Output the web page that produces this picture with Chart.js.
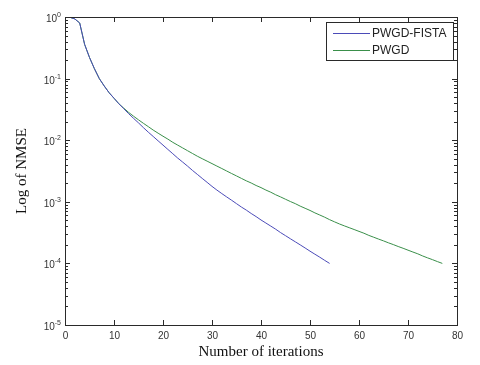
<!DOCTYPE html>
<html>
<head>
<meta charset="utf-8">
<script src="https://cdn.jsdelivr.net/npm/chart.js@4/dist/chart.umd.min.js"></script>
<style>
  html, body { margin: 0; padding: 0; background: #ffffff; }
  #wrap { width: 480px; height: 365px; position: relative; }
</style>
</head>
<body>
<div id="wrap"><canvas id="c" width="480" height="365"></canvas></div>
<script>
// ---- data ----
const seriesNames = ["PWGD-FISTA", "PWGD"];
const xTickValues = [0, 10, 20, 30, 40, 50, 60, 70, 80];
const yDecadeExponents = [0, -1, -2, -3, -4, -5];
const xTitle = "Number of iterations";
const yTitle = "Log of NMSE";

const itersFista = [1,2,3,4,5,6,7,8,9,10,11,12,13,14,15,16,17,18,19,20,21,22,23,24,25,26,27,28,29,30,
  31,32,33,34,35,36,37,38,39,40,41,42,43,44,45,46,47,48,49,50,51,52,53,54];
const nmseFista = [0.99,0.93,0.80,0.36,0.22,0.145,0.10,0.076,0.059,0.048,0.039,
  0.0324,0.0269,0.0226,0.0191,0.0160,0.0135,0.0115,0.00977,0.00832,0.00708,0.00603,0.00513,0.00442,
  0.00380,0.00324,0.00279,0.00240,0.00207,0.00178,0.00155,0.00136,0.00120,0.00106,0.000933,0.000822,
  0.000733,0.000646,0.000575,0.000507,0.000452,0.000403,0.000359,0.000316,0.000282,0.000251,0.000224,
  0.000200,0.000178,0.000158,0.000141,0.000126,0.000112,0.000100];

const itersPwgd = [1,2,3,4,5,6,7,8,9,10,11,12,13,14,15,16,17,18,19,20,21,22,23,24,25,26,27,28,29,30,
  31,32,33,34,35,36,37,38,39,40,41,42,43,44,45,46,47,48,49,50,51,52,53,54,55,56,57,58,59,60,
  61,62,63,64,65,66,67,68,69,70,71,72,73,74,75,76,77];
const nmsePwgd = [0.99,0.93,0.80,0.36,0.22,0.145,0.10,0.076,0.059,0.048,0.039,
  0.0331,0.0282,0.0245,0.0214,0.0188,0.0166,0.0146,0.0130,0.0116,0.0104,0.00923,0.00832,0.00750,
  0.00676,0.00610,0.00550,0.00501,0.00457,0.00417,0.00380,0.00347,0.00316,0.00288,0.00263,0.00240,
  0.00219,0.00202,0.00184,0.00170,0.00155,0.00143,0.00130,0.00120,0.00110,0.00101,0.000933,0.000851,
  0.000785,0.000724,0.000661,0.000610,0.000562,0.000513,0.000473,0.000437,0.000407,0.000380,0.000355,
  0.000331,0.000309,0.000285,0.000266,0.000248,0.000232,0.000216,0.000202,0.000188,0.000176,0.000164,
  0.000153,0.000143,0.000132,0.000123,0.000115,0.000107,0.000100];

// ---- styling ----
const colFista = "#4b4bb8";
const colPwgd = "#3a8f4a";
const axisCol = "#2a2a2a";
const tickFont = "10px 'Liberation Sans', Arial, sans-serif";
const supFont = "7px 'Liberation Sans', Arial, sans-serif";
const titleFont = "15px 'Liberation Serif', 'Times New Roman', serif";
const legendFont = "12px 'Liberation Sans', Arial, sans-serif";

function pts(xs, ys) { return xs.map((x, i) => ({ x: x, y: ys[i] })); }

const matlabAxes = {
  id: "matlabAxes",
  afterDraw(chart) {
    const ctx = chart.ctx;
    const a = chart.chartArea;
    const xs = chart.scales.x, ys = chart.scales.y;
    ctx.save();
    ctx.strokeStyle = axisCol;
    ctx.lineWidth = 1;
    // box
    ctx.strokeRect(Math.round(a.left) + 0.5, Math.round(a.top) + 0.5,
                   Math.round(a.right - a.left), Math.round(a.bottom - a.top));
    // x ticks
    ctx.fillStyle = "#333";
    ctx.font = tickFont;
    ctx.textAlign = "center";
    ctx.textBaseline = "middle";
    xTickValues.forEach(v => {
      const px = Math.round(xs.getPixelForValue(v)) + 0.5;
      ctx.beginPath();
      ctx.moveTo(px, a.bottom); ctx.lineTo(px, a.bottom - 5);
      ctx.moveTo(px, a.top); ctx.lineTo(px, a.top + 5);
      ctx.stroke();
      ctx.fillText(String(v), px, a.bottom + 11);
    });
    // y ticks (major + minor) and labels
    yDecadeExponents.forEach(e => {
      const base = Math.pow(10, e);
      const py = Math.round(ys.getPixelForValue(base)) + 0.5;
      ctx.beginPath();
      ctx.moveTo(a.left, py); ctx.lineTo(a.left + 5, py);
      ctx.moveTo(a.right, py); ctx.lineTo(a.right - 5, py);
      ctx.stroke();
      if (e < 0) {
        for (let m = 2; m <= 9; m++) {
          const my = Math.round(ys.getPixelForValue(base * m)) + 0.5;
          ctx.beginPath();
          ctx.moveTo(a.left, my); ctx.lineTo(a.left + 3, my);
          ctx.moveTo(a.right, my); ctx.lineTo(a.right - 3, my);
          ctx.stroke();
        }
      }
      // label 10^e
      const sup = String(e);
      ctx.font = supFont;
      const wSup = ctx.measureText(sup).width;
      ctx.font = tickFont;
      const wBase = ctx.measureText("10").width;
      const rightEdge = a.left - 4;
      ctx.textAlign = "left";
      ctx.textBaseline = "alphabetic";
      ctx.fillText("10", rightEdge - wSup - wBase, py + 4);
      ctx.font = supFont;
      ctx.fillText(sup, rightEdge - wSup, py - 1);
    });
    // axis titles
    ctx.fillStyle = "#111";
    ctx.font = titleFont;
    ctx.textAlign = "center";
    ctx.textBaseline = "middle";
    ctx.fillText(xTitle, (a.left + a.right) / 2, 352);
    ctx.save();
    ctx.translate(22, (a.top + a.bottom) / 2);
    ctx.rotate(-Math.PI / 2);
    ctx.fillText(yTitle, 0, 0);
    ctx.restore();
    // legend
    const lx = 326.5, ly = 22.5, lw = 127, lh = 38;
    ctx.fillStyle = "#fff";
    ctx.fillRect(lx, ly, lw, lh);
    ctx.strokeStyle = axisCol;
    ctx.strokeRect(lx, ly, lw, lh);
    const rows = [33.5, 50.5];
    chart.data.datasets.forEach((ds, i) => {
      ctx.strokeStyle = ds.borderColor;
      ctx.beginPath();
      ctx.moveTo(333, rows[i]); ctx.lineTo(370, rows[i]);
      ctx.stroke();
      ctx.fillStyle = "#222";
      ctx.font = legendFont;
      ctx.textAlign = "left";
      ctx.textBaseline = "middle";
      ctx.fillText(ds.label, 372, rows[i] + 0.5);
    });
    ctx.restore();
  }
};

new Chart(document.getElementById("c"), {
  type: "line",
  data: {
    datasets: [
      { label: seriesNames[0], data: pts(itersFista, nmseFista), borderColor: colFista,
        borderWidth: 1, pointRadius: 0, tension: 0, fill: false },
      { label: seriesNames[1], data: pts(itersPwgd, nmsePwgd), borderColor: colPwgd,
        borderWidth: 1, pointRadius: 0, tension: 0, fill: false }
    ]
  },
  options: {
    responsive: false,
    animation: false,
    devicePixelRatio: 1,
    layout: { padding: { left: 0, top: 17, right: 23, bottom: 0 } },
    plugins: { legend: { display: false }, tooltip: { enabled: false } },
    scales: {
      x: {
        type: "linear", min: 0, max: 80,
        grid: { display: false }, border: { display: false },
        ticks: { display: false },
        afterFit(s) { s.height = 40; }
      },
      y: {
        type: "logarithmic", min: 1e-5, max: 1,
        grid: { display: false }, border: { display: false },
        ticks: { display: false },
        afterFit(s) { s.width = 65; }
      }
    }
  },
  plugins: [matlabAxes]
});
</script>
</body>
</html>
